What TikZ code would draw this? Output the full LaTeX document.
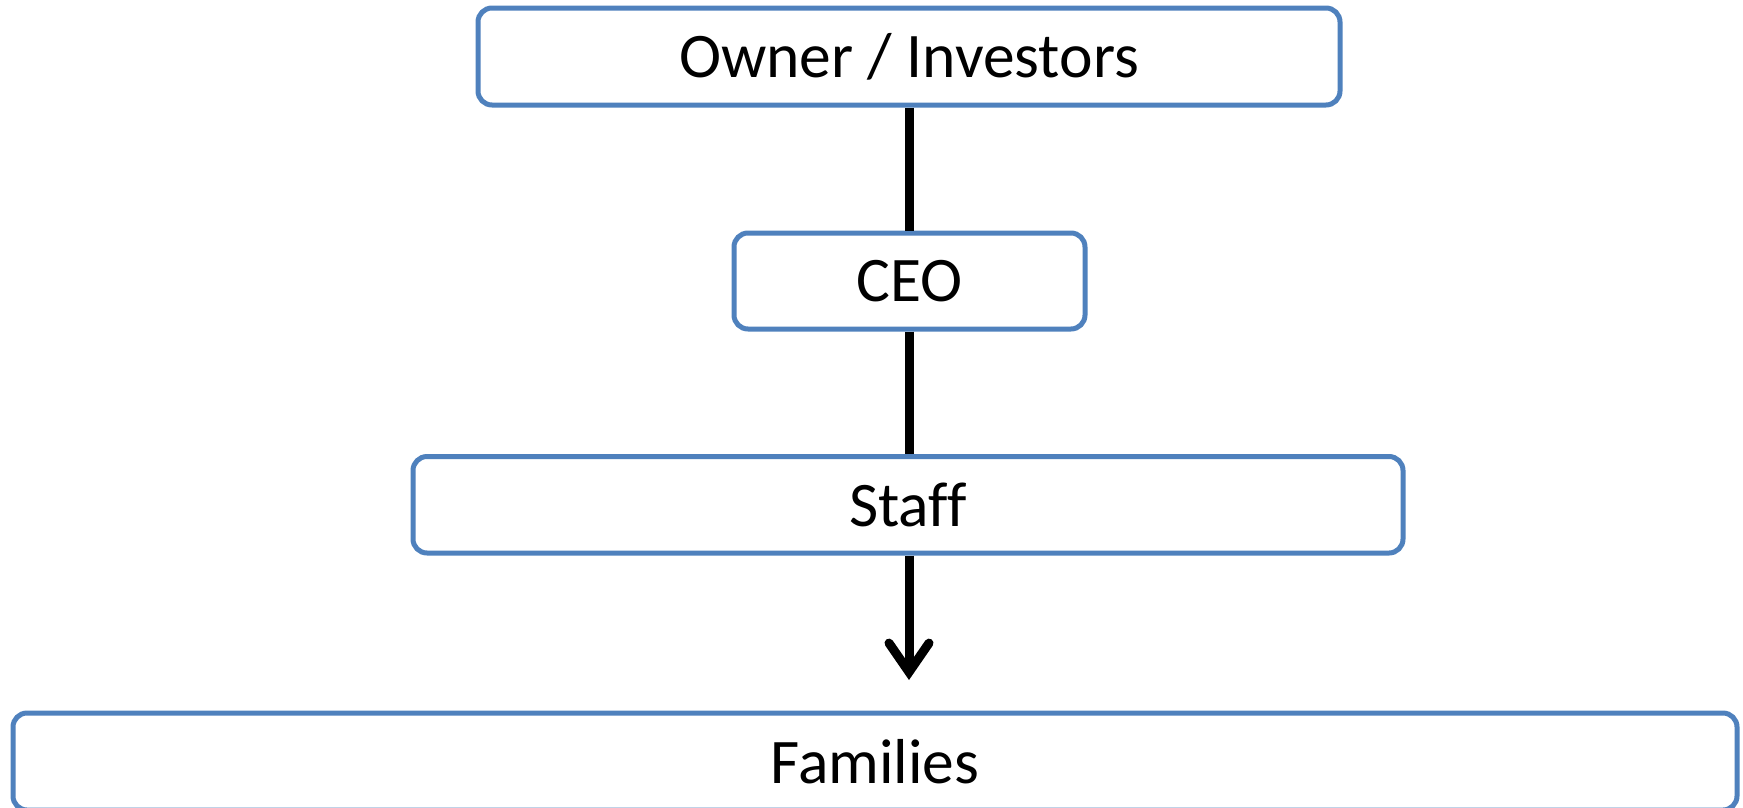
\documentclass[tikz,border=0pt]{standalone}
\usepackage{fontspec}
\setmainfont{Carlito}[Ligatures=NoCommon]
\usetikzlibrary{arrows.meta}
\definecolor{boxblue}{RGB}{79,129,189}
\begin{document}
\begin{tikzpicture}[x=1pt,y=-1pt,
  orgbox/.style={draw=boxblue, line width=5pt, rounded corners=14pt, fill=white,
    inner sep=0pt, font=\fontsize{63.5}{70}\selectfont, text=black},
  link/.style={line width=9pt, black}]
\useasboundingbox (0,0) rectangle (1743,807);
\node[orgbox, minimum width=862pt, minimum height=97pt] (own) at (909,56.5) {Owner / Investors};
\node[orgbox, minimum width=351pt, minimum height=96pt] (ceo) at (909.5,281) {CEO};
\node[orgbox, minimum width=990pt, minimum height=96.5pt] (staff) at (908,504.75) {Staff};
\node[orgbox, minimum width=1724pt, minimum height=97pt] (fam) at (875,761.5) {Families};
\coordinate (tip) at (909,680);
\draw[link] (own.south -| tip) -- (ceo.north -| tip);
\draw[link] (ceo.south -| tip) -- (staff.north -| tip);
\draw[link, -{Straight Barb[length=29pt,width=40pt,line cap=round,line join=miter]}] (staff.south -| tip) -- (tip);
\end{tikzpicture}
\end{document}
